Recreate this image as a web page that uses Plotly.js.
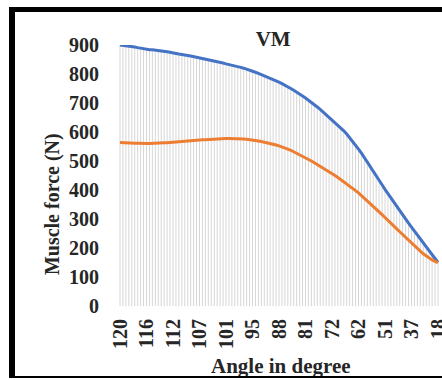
<!DOCTYPE html>
<html>
<head>
<meta charset="utf-8">
<script src="https://cdn.plot.ly/plotly-3.0.1.min.js"></script>
<style>
html,body{margin:0;padding:0;background:#fff;}
#wrap{position:relative;width:442px;height:380px;overflow:hidden;}
#chart{position:absolute;left:0;top:0;width:442px;height:380px;}
#frame{position:absolute;left:9px;top:7px;width:440px;height:371px;border-left:6px solid #000;border-top:5px solid #000;border-bottom:2px solid #000;box-sizing:border-box;pointer-events:none;}
</style>
</head>
<body>
<div id="wrap"><div id="chart"></div><div id="frame"></div></div>
<script>
// Angle tick labels (every 9th category)
var angleLabels = ['120','116','112','107','101','95','88','81','72','62','51','37','18'];
var labelStep = 9;

// Blue series (upper curve) values, one per category
var blueSeries = [
900,899,898,896,895,893,891,889,887,885,
884,884,883,882,881,879,877,875,872,
871,869,868,866,864,862,860,858,856,
854,852,850,848,846,843,841,838,835,
833,831,828,826,823,820,817,814,810,
806,802,798,794,790,786,781,777,772,
767,762,756,750,744,738,731,724,717,
710,702,694,686,678,669,660,651,643,
634,625,615,604,593,581,568,555,541,
527,512,497,482,466,450,434,418,402,
387,372,357,343,329,314,300,286,272,
258,244,230,216,203,189,176,163,150
];

// Orange series (lower curve) values
var orangeSeries = [
564,563,563,562,562,561,561,560,560,560,
560,561,561,562,562,563,563,564,564,
565,566,567,568,568,569,570,571,572,
573,573,574,575,575,576,577,577,578,
578,578,578,577,577,576,575,574,572,
571,569,567,565,563,561,558,555,552,
549,545,541,537,532,527,522,517,512,
506,500,494,488,482,476,470,463,457,
450,443,436,429,421,414,406,398,390,
381,372,363,354,344,335,325,315,305,
296,286,276,266,256,246,236,226,217,
207,198,189,180,172,165,159,154,150
];

var chartTitle = 'VM';
var xTitle = 'Angle in degree';
var yTitle = 'Muscle force (N)';

var idx = blueSeries.map(function(_, i){ return i; });
var tickvals = angleLabels.map(function(_, k){ return k * labelStep; });

// Drop lines from the upper series to the axis
var dropX = [], dropY = [];
blueSeries.forEach(function(v, i){
  dropX.push(i, i, null);
  dropY.push(0, v, null);
});

var fontFam = '"Liberation Serif", "Times New Roman", serif';
var txtCol = '#262626';

var traces = [
  {x: dropX, y: dropY, mode: 'lines', type: 'scatter',
   line: {color: '#d6d6d6', width: 1}, hoverinfo: 'skip', showlegend: false},
  {x: idx, y: blueSeries, mode: 'lines', type: 'scatter',
   line: {color: '#4472C4', width: 3}, showlegend: false},
  {x: idx, y: orangeSeries, mode: 'lines', type: 'scatter',
   line: {color: '#ED7D31', width: 3}, showlegend: false}
];

var layout = {
  width: 442, height: 380,
  margin: {l: 118, r: 0, t: 45, b: 74, pad: 0},
  paper_bgcolor: '#ffffff',
  plot_bgcolor: '#ffffff',
  showlegend: false,
  font: {family: fontFam, color: txtCol, size: 20},
  title: {text: '<b>' + chartTitle + '</b>', font: {family: fontFam, size: 21, color: txtCol},
          xref: 'container', yref: 'container', x: 0.618, y: 0.897,
          xanchor: 'center', yanchor: 'middle'},
  xaxis: {
    range: [-0.68, 109.36],
    tickmode: 'array', tickvals: tickvals,
    ticktext: angleLabels.map(function(t){ return '<b>' + t + '</b>'; }),
    tickangle: -90, ticks: '', showgrid: false, zeroline: false, showline: false,
    tickfont: {family: fontFam, size: 20, color: txtCol},
    ticklabelstandoff: 8,
    ticklabeloverflow: 'allow'
  },
  yaxis: {
    range: [0, 900], tickmode: 'linear', tick0: 0, dtick: 100,
    ticks: '', showgrid: false, zeroline: false, showline: false,
    tickfont: {family: fontFam, size: 20, color: txtCol},
    tickprefix: '<b>', ticksuffix: '</b>',
    ticklabelstandoff: 18
  },
  annotations: [
    {text: '<b>' + xTitle + '</b>', xref: 'paper', yref: 'paper',
     x: 0.503, y: -0.23, xanchor: 'center', yanchor: 'middle', showarrow: false,
     font: {family: fontFam, size: 21, color: txtCol}},
    {text: '<b>' + yTitle + '</b>', xref: 'paper', yref: 'paper',
     x: -0.204, y: 0.39, xanchor: 'center', yanchor: 'middle', showarrow: false,
     textangle: -90, font: {family: fontFam, size: 20, color: txtCol}}
  ]
};

Plotly.newPlot('chart', traces, layout, {displayModeBar: false, staticPlot: true});
</script>
</body>
</html>
